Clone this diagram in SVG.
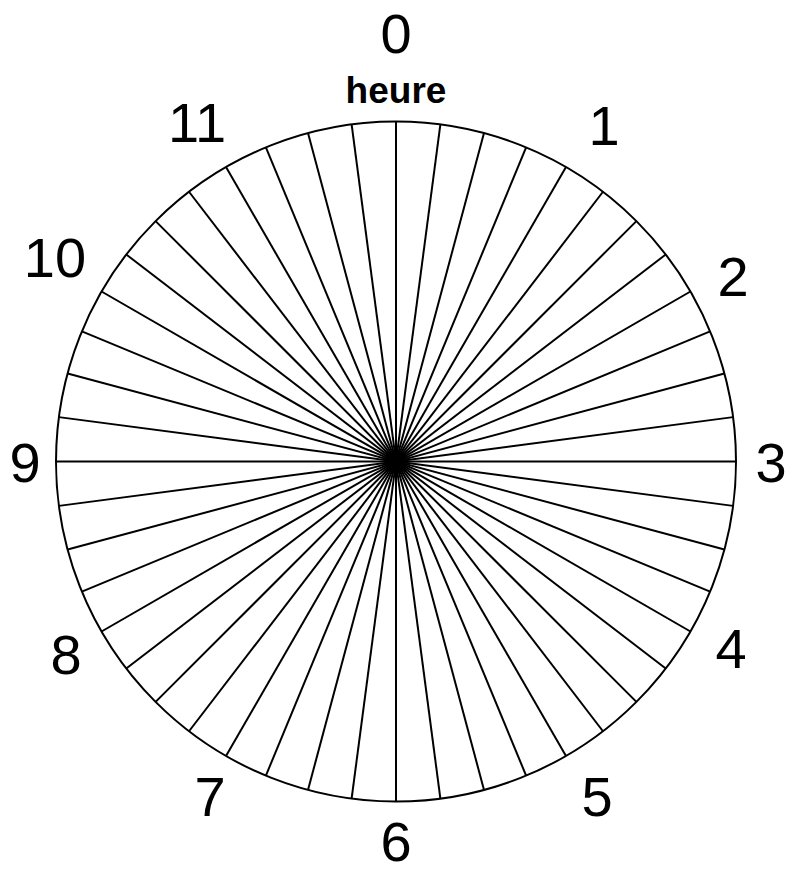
<svg xmlns="http://www.w3.org/2000/svg" xmlns:xlink="http://www.w3.org/1999/xlink" width="785" height="873" viewBox="0 0 785 873">
<style>
.sp{stroke:#000;stroke-width:2;fill:none}
.rim{stroke:#000;stroke-width:2;fill:#fff}
.lb{font-family:"Liberation Sans",Arial,sans-serif;font-size:56px;fill:#000;text-anchor:middle}
.hr{font-family:"Liberation Sans",Arial,sans-serif;font-size:37px;font-weight:bold;fill:#000;text-anchor:middle}
</style>
<defs>
<line id="d" x1="396" y1="121.5" x2="396" y2="801.5"/>
</defs>
<rect width="785" height="873" fill="#fff"/>
<g id="dial">
<circle class="rim" cx="396" cy="461.5" r="340"/>
</g>
<g id="spokes" class="sp">
<use xlink:href="#d"/>
<use xlink:href="#d" transform="rotate(7.5 396 461.5)"/>
<use xlink:href="#d" transform="rotate(15 396 461.5)"/>
<use xlink:href="#d" transform="rotate(22.5 396 461.5)"/>
<use xlink:href="#d" transform="rotate(30 396 461.5)"/>
<use xlink:href="#d" transform="rotate(37.5 396 461.5)"/>
<use xlink:href="#d" transform="rotate(45 396 461.5)"/>
<use xlink:href="#d" transform="rotate(52.5 396 461.5)"/>
<use xlink:href="#d" transform="rotate(60 396 461.5)"/>
<use xlink:href="#d" transform="rotate(67.5 396 461.5)"/>
<use xlink:href="#d" transform="rotate(75 396 461.5)"/>
<use xlink:href="#d" transform="rotate(82.5 396 461.5)"/>
<use xlink:href="#d" transform="rotate(90 396 461.5)"/>
<use xlink:href="#d" transform="rotate(97.5 396 461.5)"/>
<use xlink:href="#d" transform="rotate(105 396 461.5)"/>
<use xlink:href="#d" transform="rotate(112.5 396 461.5)"/>
<use xlink:href="#d" transform="rotate(120 396 461.5)"/>
<use xlink:href="#d" transform="rotate(127.5 396 461.5)"/>
<use xlink:href="#d" transform="rotate(135 396 461.5)"/>
<use xlink:href="#d" transform="rotate(142.5 396 461.5)"/>
<use xlink:href="#d" transform="rotate(150 396 461.5)"/>
<use xlink:href="#d" transform="rotate(157.5 396 461.5)"/>
<use xlink:href="#d" transform="rotate(165 396 461.5)"/>
<use xlink:href="#d" transform="rotate(172.5 396 461.5)"/>
</g>
<g id="labels">
<text class="lb" x="396" y="53">0</text>
<text class="hr" x="396" y="103">heure</text>
<text class="lb" x="604" y="145">1</text>
<text class="lb" x="733" y="296">2</text>
<text class="lb" x="771" y="482">3</text>
<text class="lb" x="731" y="668">4</text>
<text class="lb" x="597" y="816">5</text>
<text class="lb" x="396" y="861">6</text>
<text class="lb" x="210" y="816">7</text>
<text class="lb" x="66" y="674">8</text>
<text class="lb" x="25" y="482">9</text>
<text class="lb" x="55" y="277">10</text>
<text class="lb" x="197" y="142">11</text>
</g>
</svg>
